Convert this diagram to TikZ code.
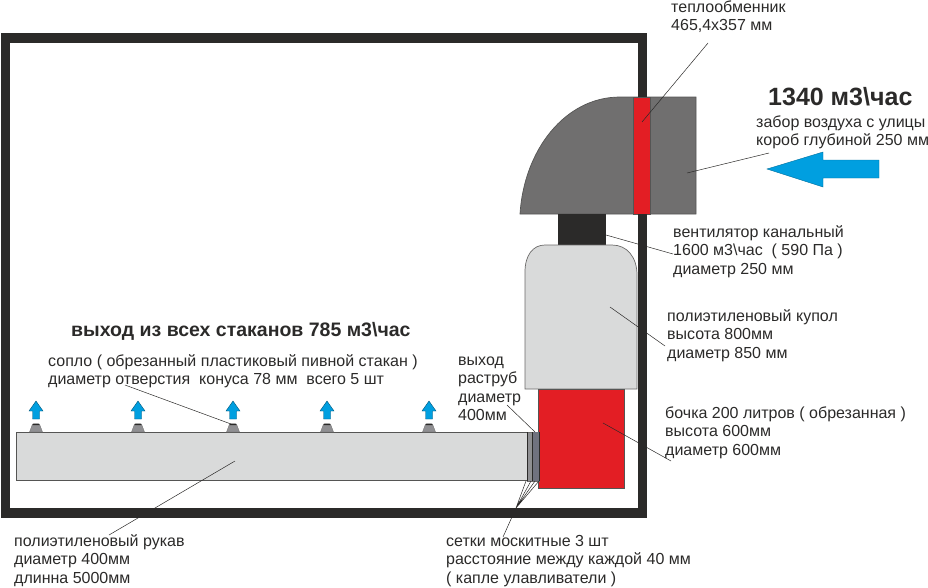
\documentclass[tikz,border=0pt]{standalone}
\usepackage{fontspec}
\setmainfont{Liberation Sans}
\definecolor{frame}{HTML}{2B2A29}
\definecolor{elbow}{HTML}{706F6F}
\definecolor{redc}{HTML}{E31E24}
\definecolor{lightg}{HTML}{D9DADA}
\definecolor{blue1}{HTML}{009FE0}
\definecolor{meshg}{HTML}{8F8F92}
\definecolor{meshb}{HTML}{70727F}
\newcommand{\fl}{\rule{0pt}{14pt}}
\tikzset{
  lab/.style={anchor=north west,align=left,inner sep=0pt,font=\fontsize{16}{18.4}\selectfont,text=frame},
  bigl/.style={anchor=north west,inner sep=0pt,text=frame},
  lead/.style={draw=frame,line width=0.5pt},
  outl/.style={draw=frame!80,line width=0.7pt},
  upar/.style={fill=blue1,draw=blue1!55!black,line width=0.4pt},
}
\newcommand{\upnoz}[2]{%
  \fill[meshg,draw=elbow,line width=.3pt] (#1-6.5,#2) -- (#1-3.5,#2-8) -- (#1+3.5,#2-8) -- (#1+6.5,#2) -- cycle;
  \fill[frame] (#1-3.5,#2-7) -- (#1-2.5,#2-8.5) -- (#1+2.5,#2-8.5) -- (#1+3.5,#2-7) -- cycle;
  \path[upar] (#1-3.5,#2-13) -- (#1-3.5,#2-21) -- (#1-7,#2-21) -- (#1,#2-31) -- (#1+7,#2-21) -- (#1+3.5,#2-21) -- (#1+3.5,#2-13) -- cycle;
}
\begin{document}
\begin{tikzpicture}[x=1pt,y=-1pt]
\useasboundingbox (0,0) rectangle (928,587);
% heat-exchanger elbow
\path[fill=elbow,outl] (520,214) .. controls (524,150) and (565,97) .. (620,97) -- (696,97) -- (696,214) -- cycle;
\path[fill=redc,outl] (633.5,97) rectangle (650.5,214);
% fan
\fill[frame] (558,214) rectangle (606,246);
% dome
\path[fill=lightg,draw=frame!70,line width=.7pt] (525,389) -- (525,272) .. controls (525,255) and (533,245) .. (545,245) -- (612,245) .. controls (627,245) and (637,257) .. (637,275) -- (637,389) -- cycle;
% barrel
\path[fill=redc,draw=frame!80,line width=.7pt] (538.5,389) rectangle (624.5,488);
% sleeve
\path[fill=lightg,draw=frame!80,line width=.7pt] (16,432) rectangle (527,480.5);
% nets
\path[fill=meshg,draw=frame!70,line width=.5pt] (527,432) rectangle (539.5,481);
\fill[meshb] (532.5,432) rectangle (539,481);
\draw[frame,line width=.7pt] (527.5,432) -- (527.5,481) (532,432) -- (532,481) (539.3,432) -- (539.3,481);
% nozzles and arrows
\upnoz{36}{432}
\upnoz{138}{432}
\upnoz{233}{432}
\upnoz{327}{432}
\upnoz{429}{432}
% intake arrow
\path[fill=blue1,draw=blue1!70!black,line width=.4pt] (879,160) -- (823,160) -- (823,152) -- (767,169) -- (823,187) -- (823,178) -- (879,178) -- cycle;
% labels
\node[lab] (t1) at (671,-2) {\fl теплообменник\\465,4х357 мм};
\node[bigl,font=\bfseries\fontsize{25}{29}\selectfont] (t2) at (768,85) {\rule{0pt}{20pt}1340 м3\textbackslash час};
\node[lab] (t3) at (756,113) {\fl забор воздуха с улицы\\короб глубиной 250 мм};
\node[lab] (t4) at (673,223) {\fl вентилятор канальный\\1600 м3\textbackslash час \ ( 590 Па )\\диаметр 250 мм};
\node[lab] (t5) at (667,307) {\fl полиэтиленовый купол\\высота 800мм\\диаметр 850 мм};
\node[lab] (t6) at (665,404) {\fl бочка 200 литров ( обрезанная )\\высота 600мм\\диаметр 600мм};
\node[lab] (t7) at (458,351) {\fl выход\\раструб\\диаметр\\400мм};
\node[bigl,font=\bfseries\fontsize{19.5}{23}\selectfont] (t8) at (71,320) {\rule{0pt}{16pt}выход из всех стаканов 785 м3\textbackslash час};
\node[lab] (t9) at (48,352) {\fl сопло ( обрезанный пластиковый пивной стакан )\\диаметр отверстия \ конуса 78 мм \ всего 5 шт};
\node[lab] (t10) at (14,532) {\fl полиэтиленовый рукав\\диаметр 400мм\\длинна 5000мм};
\node[lab] (t11) at (446,532) {\fl сетки москитные 3 шт\\расстояние между каждой 40 мм\\( капле улавливатели )};
% anchors of the leaders
\coordinate (e1) at (642,122);
\coordinate (s1) at (708,43);
\coordinate (e3) at (687,173);
\coordinate (s3) at (769,153);
\coordinate (e4) at (606,235);
\coordinate (s4) at (673,254);
\coordinate (e5) at (610,307);
\coordinate (s5) at (665,346);
\coordinate (e6) at (603,423);
\coordinate (s6) at (671,461);
\coordinate (e7) at (535,432);
\coordinate (s7) at (507,405);
\coordinate (e9) at (231,424);
\coordinate (s9) at (125,385);
\coordinate (e10) at (235,461);
\coordinate (s10) at (109,535);
\coordinate (s11) at (503,537);
\coordinate (m) at (516,508);
\coordinate (n1) at (526,481);
\coordinate (n2) at (531,481);
\coordinate (n3) at (535,481);
\coordinate (n4) at (539,481);
\draw[lead] (s1) -- (e1);
\draw[lead] (s3) -- (e3);
\draw[lead] (s4) -- (e4);
\draw[lead] (s5) -- (e5);
\draw[lead] (s6) -- (e6);
\draw[lead] (s7) -- (e7);
\draw[lead] (s9) -- (e9);
\draw[lead] (s10) -- (e10);
\draw[lead] (s11) -- (m);
\draw[lead] (m) -- (n1) (m) -- (n2) (m) -- (n3) (m) -- (n4);
% room frame, over the leaders that pass behind it
\draw[frame,line width=9.5pt,miter limit=10] (642.5,97) -- (642.5,38) -- (5.5,38) -- (5.5,513) -- (642.5,513) -- (642.5,214);
\end{tikzpicture}
\end{document}
